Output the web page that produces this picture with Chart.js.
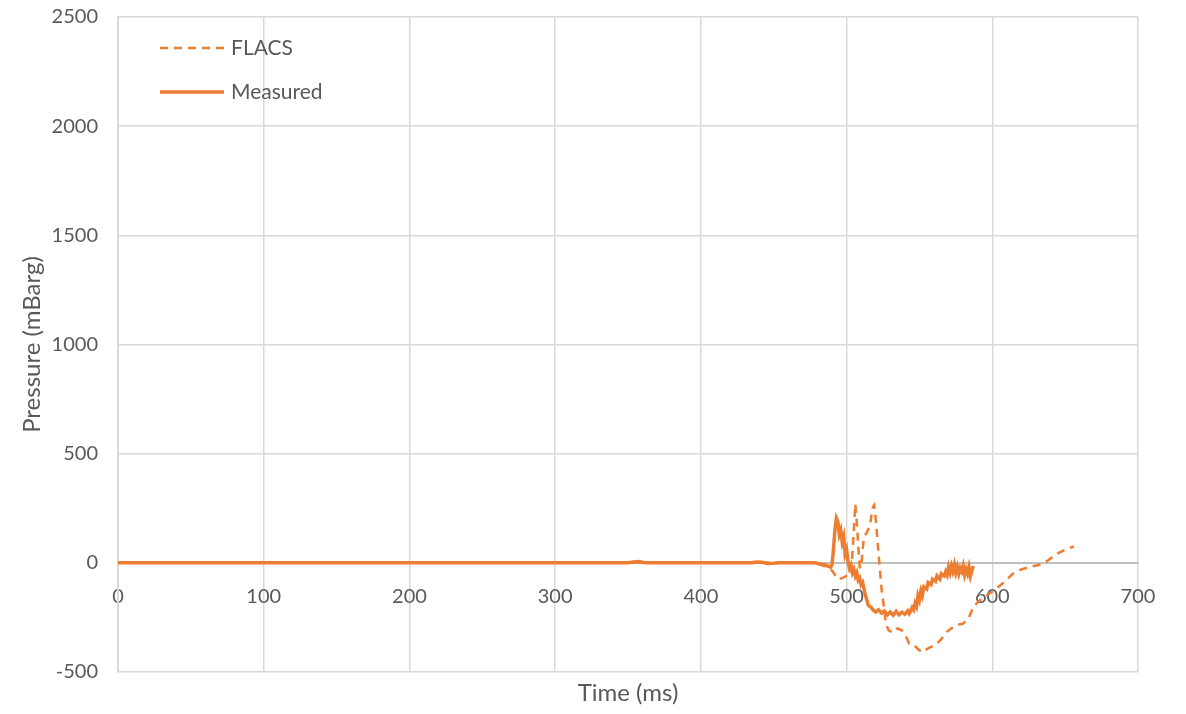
<!DOCTYPE html>
<html>
<head>
<meta charset="utf-8">
<script src="https://cdn.jsdelivr.net/npm/chart.js@4.4.1/dist/chart.umd.min.js"></script>
<style>
html,body{margin:0;padding:0;background:#fff;}
#wrap{width:1186px;height:714px;}
</style>
</head>
<body>
<div id="wrap"><canvas id="c" width="1186" height="714"></canvas></div>
<script>
// Time (ms) / Pressure (mBarg) pairs
const measuredTime = [0,350,354,358,362,435,438,442,446,450,454,478,482,486,489,490,491,492,493,494,495,496,497,498,499,500,501,502,503,504,505,506,507,508,509,510,511,512,513,515,517,518,520,522,524,526,528,530,532,534,536,538,540,542,543,545,546,547,548,549,550,551,552,553,555,556,558,559,561,562,564,565,567,568,569,570,571,572,573,574,575,576,577,578,579,580,581,582,583,584,585,586,587];
const measuredPressure = [0,0,4,6,0,0,4,3,-3,-2,0,0,-5,-12,-20,-10,60,150,205,190,130,150,95,120,40,60,5,-25,-10,-45,-30,-60,-45,-80,-70,-100,-90,-120,-150,-195,-205,-215,-225,-215,-230,-220,-238,-225,-240,-222,-238,-226,-235,-220,-232,-205,-215,-185,-200,-150,-170,-130,-150,-110,-120,-90,-100,-75,-85,-60,-75,-50,-60,-40,-55,-20,-45,-15,-40,-10,-45,-20,-50,-25,-40,-15,-55,-30,-50,-20,-60,-35,-15];
const flacsTime = [0,476,480,485,490,494,497,500,503,504,505,506,507,508,509,510,511,512,514,516,518,519,520,521,522,523,524,525,527,529,532,535,538,541,543,546,549,552,555,558,562,565,568,572,576,580,584,587,591,596,602,608,614,620,626,632,638,644,650,656];
const flacsPressure = [0,0,-5,-15,-35,-75,-70,-60,-55,40,150,270,190,80,-20,-25,60,120,140,170,255,265,200,120,40,-40,-120,-170,-280,-310,-320,-300,-310,-340,-370,-375,-395,-410,-395,-385,-370,-350,-320,-300,-285,-278,-250,-200,-175,-150,-122,-90,-50,-30,-18,-10,10,40,60,75];
const xTicks = [0,100,200,300,400,500,600,700];
const yTicks = [-500,0,500,1000,1500,2000,2500];
const seriesNames = ['FLACS','Measured'];

const ORANGE = '#ED7D31';
const TXT = '#595959';
const FONT = 'Lato';

const toPts = (xs, ys) => xs.map((x, i) => ({x: x, y: ys[i]}));

const legendPlugin = {
  id: 'insideLegend',
  afterDraw(chart) {
    const ctx = chart.ctx;
    const ds = chart.data.datasets;
    const rows = [48, 92];
    ctx.save();
    ds.forEach((d, i) => {
      const y = rows[i];
      ctx.strokeStyle = d.borderColor;
      ctx.lineWidth = i === 0 ? 2.5 : 3.5;
      ctx.setLineDash(d.borderDash || []);
      ctx.beginPath();
      ctx.moveTo(160, y);
      ctx.lineTo(224, y);
      ctx.stroke();
      ctx.setLineDash([]);
      ctx.fillStyle = TXT;
      ctx.font = '21px ' + FONT;
      ctx.textBaseline = 'middle';
      ctx.textAlign = 'left';
      ctx.fillText(d.label, 231, y);
    });
    const a = chart.chartArea;
    ctx.font = '24px ' + FONT;
    ctx.textAlign = 'center';
    ctx.textBaseline = 'middle';
    ctx.fillStyle = TXT;
    ctx.fillText('Time (ms)', (a.left + a.right) / 2, 693);
    ctx.restore();
  }
};

new Chart(document.getElementById('c'), {
  type: 'scatter',
  data: {
    datasets: [
      {label: seriesNames[0], data: toPts(flacsTime, flacsPressure), showLine: true, borderColor: ORANGE, backgroundColor: ORANGE, borderWidth: 2.5, borderDash: [8, 6], pointRadius: 0, tension: 0},
      {label: seriesNames[1], data: toPts(measuredTime, measuredPressure), showLine: true, borderColor: ORANGE, backgroundColor: ORANGE, borderWidth: 3.5, pointRadius: 0, tension: 0}
    ]
  },
  options: {
    responsive: false,
    animation: false,
    layout: {padding: {left: 0, top: 17, right: 48, bottom: 42}},
    plugins: {legend: {display: false}, tooltip: {enabled: false}},
    scales: {
      x: {
        type: 'linear', position: {y: 0}, min: 0, max: 700,
        afterBuildTicks: s => { s.ticks = xTicks.map(v => ({value: v})); },
        ticks: {color: TXT, font: {family: FONT, size: 20}, padding: 22, maxRotation: 0, callback: v => String(v)},
        grid: {color: '#d9d9d9', lineWidth: 1.5, drawTicks: false},
        border: {color: '#bfbfbf', width: 2}
      },
      y: {
        type: 'linear', position: 'left', min: -500, max: 2500,
        afterBuildTicks: s => { s.ticks = yTicks.map(v => ({value: v})); },
        afterFit: s => { s.width = 118; s.paddingTop = 0; s.paddingBottom = 0; },
        ticks: {color: TXT, font: {family: FONT, size: 20}, padding: 20, callback: v => String(v)},
        grid: {color: '#d9d9d9', lineWidth: 1.5, drawTicks: false},
        border: {color: '#d9d9d9', width: 2},
        title: {display: true, text: 'Pressure (mBarg)', color: TXT, font: {family: FONT, size: 24}, padding: {top: 18, bottom: 0}}
      }
    }
  },
  plugins: [legendPlugin]
});
</script>
</body>
</html>
